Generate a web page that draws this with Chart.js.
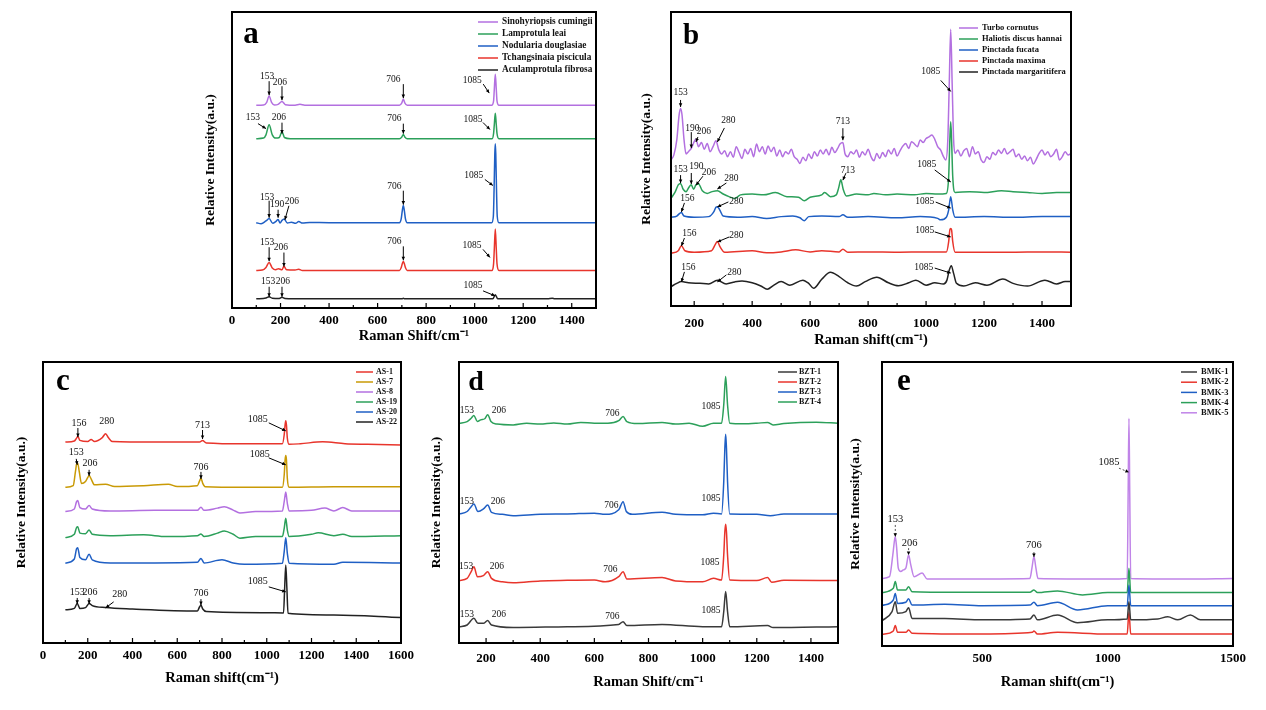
<!DOCTYPE html>
<html>
<head>
<meta charset="utf-8">
<script src="https://cdn.jsdelivr.net/npm/chart.js@4.4.1/dist/chart.umd.min.js"></script>
<style>
  body { margin:0; background:#fff; width:1266px; height:710px; position:relative; overflow:hidden; }
  canvas { position:absolute; }
</style>
</head>
<body>
<canvas id="pa" width="430" height="345" style="left:190px;top:4px"></canvas>
<canvas id="pb" width="462" height="350" style="left:628px;top:4px"></canvas>
<canvas id="pc" width="420" height="350" style="left:2px;top:355px"></canvas>
<canvas id="pd" width="440" height="350" style="left:415px;top:355px"></canvas>
<canvas id="pe" width="425" height="350" style="left:835px;top:355px"></canvas>
<script>
// ---- panel a : freshwater mussels ----
const aLabels = ['Sinohyriopsis cumingii','Lamprotula leai','Nodularia douglasiae','Tchangsinaia piscicula','Aculamprotula fibrosa'];
const aTicks = [0,200,400,600,800,1000,1200,1400];
const sinohyriopsis = [[100,68.5],[130,68.6],[143,69.5],[153,71.6],[163,69.5],[175,68.6],[190,68.8],[206,69.8],[220,68.7],[260,68.5],[280,68.8],[300,68.5],[690,68.5],[700,69.3],[706,70.6],[712,69.3],[722,68.5],[1070,68.5],[1078,70],[1081,74],[1085,79],[1089,74],[1092,70],[1100,68.5],[1500,68.5]];
const lamprotula = [[100,57.2],[130,57.4],[140,58.5],[153,61.9],[166,58.5],[180,57.4],[195,57.6],[206,59.6],[216,57.6],[240,57.2],[690,57.2],[700,57.8],[706,58.6],[712,57.8],[722,57.2],[1072,57.2],[1078,59],[1081,62],[1085,65.8],[1089,62],[1092,59],[1100,57.2],[1500,57.2]];
const nodularia = [[100,28.8],[120,28.5],[140,29.4],[153,30.2],[168,28.6],[180,29.2],[190,29.9],[198,28.7],[206,29.6],[215,30.1],[228,28.7],[245,29.0],[262,28.6],[275,29.2],[290,28.7],[320,28.9],[400,28.8],[690,28.8],[697,30],[702,33],[706,34.6],[710,33],[715,30],[722,28.8],[1070,28.8],[1077,31],[1080,40],[1083,52],[1085,55.5],[1087,52],[1090,40],[1093,31],[1100,28.8],[1500,28.8]];
const tchangsinaia = [[100,12.7],[125,12.8],[140,13.7],[153,15.4],[166,13.5],[180,12.9],[192,13.3],[206,12.9],[214,14.1],[225,12.9],[260,12.8],[275,13.1],[290,12.7],[690,12.7],[697,13.6],[702,15],[706,15.7],[710,15],[715,13.6],[722,12.7],[1072,12.7],[1078,15],[1081,20],[1085,26.7],[1089,20],[1092,15],[1100,12.7],[1500,12.7]];
const aculamprotula = [[100,3.1],[140,3.4],[153,3.8],[166,3.3],[195,3.2],[206,3.6],[218,3.2],[300,3.1],[700,3.1],[706,3.3],[712,3.1],[1075,3.1],[1085,4.5],[1095,3.1],[1300,3.1],[1320,3.3],[1330,3.1],[1500,3.1]];
// [text, x, y, arrow tail dx, dy, label dx, dy]
const aNotes = [
  ['153',153,71.9,0,-14,-2,-19],['206',206,70.2,0,-14,-2,-18],['706',706,70.9,0,-14,-10,-19],['1085',1060,72.6,-6,-9,-17,-13],
  ['153',140,60.6,-8,-5,-13,-11],['206',206,58.9,0,-11,-3,-16],['706',706,58.9,0,-10,-9,-15],['1085',1063,60.3,-7,-7,-17,-10],
  ['153',153,30.5,0,-17,-2,-20],['190',190,30.5,0,-8,-1,-13],['206',218,29.8,4,-14,7,-18],['706',706,34.9,0,-14,-9,-18],['1085',1075,41.4,-8,-6,-19,-10],
  ['153',153,15.8,0,-14,-2,-19],['206',214,14.0,0,-14,-3,-19],['706',706,16.1,0,-14,-9,-19],['1085',1063,17.1,-7,-8,-18,-12],
  ['153',153,3.8,0,-10,-1,-15],['206',206,3.8,0,-10,1,-15],['1085',1084,4.1,-12,-5,-22,-10]
];

// ---- panel b : marine shells ----
const bLabels = ['Turbo cornutus','Haliotis discus hannai','Pinctada fucata','Pinctada maxima','Pinctada margaritifera'];
const bTicks = [200,400,600,800,1000,1200,1400];
const turbo = [[120,49.7],[130,51.4],[140,56.5],[148,65],[153,67.2],[158,65],[165,56.5],[172,51.7],[180,52.5],[190,53.6],[200,55.9],[206,56.7],[215,54.2],[225,55.6],[235,53.3],[245,55.3],[255,52.5],[265,54.2],[275,56.2],[285,53.1],[295,51.7],[305,52.8],[315,50.8],[325,52.5],[335,50.6],[345,54.2],[355,52.2],[365,50.2],[375,53.3],[385,51.7],[395,53.6],[405,50.8],[415,55.1],[425,52.5],[435,54.2],[445,51.7],[455,54.4],[465,52.5],[475,54],[485,51],[495,53.1],[505,50.8],[515,52.5],[525,51.7],[535,53.3],[545,50.8],[555,49.9],[565,48.5],[575,50.6],[585,49.4],[595,51.7],[605,50.2],[615,52.5],[625,51],[635,53.1],[645,51.7],[655,53.3],[665,51.4],[675,54],[685,52.2],[695,53.6],[703,55.1],[713,55.6],[720,51.9],[730,50.8],[740,52.5],[750,51.7],[760,53.1],[770,50.6],[780,52.5],[790,51.4],[800,53.3],[810,50.8],[820,49.4],[830,51.9],[840,50.2],[850,52.2],[860,50.8],[870,53.1],[880,51.7],[890,53.6],[900,51],[910,52.8],[920,54.4],[930,55.3],[940,53.6],[950,55.9],[960,55.1],[970,54.2],[980,56.5],[990,55.6],[1000,57],[1010,57.5],[1020,58.2],[1030,56.7],[1040,54.2],[1050,53.1],[1060,50.8],[1068,49.7],[1075,56.5],[1080,75.7],[1085,94.1],[1090,75.7],[1095,56.5],[1100,51.9],[1110,53.1],[1120,51],[1130,52.8],[1140,53.6],[1150,50.8],[1160,54.2],[1170,51.7],[1180,52.5],[1190,49.7],[1200,48.8],[1210,50.8],[1220,49.9],[1230,52.2],[1240,51.4],[1250,53.1],[1260,51.9],[1270,53.6],[1280,51.7],[1290,52.5],[1300,53.3],[1310,50.8],[1320,51.7],[1330,49.9],[1340,51],[1350,49.4],[1360,50.6],[1370,48.3],[1380,49.9],[1390,51.9],[1400,53.1],[1410,51.4],[1420,52.5],[1430,50.8],[1440,51.7],[1450,53.3],[1460,49.7],[1470,50.8],[1480,52.5],[1490,51.4],[1500,51.9]];
const haliotis = [[120,36.6],[135,38.9],[145,41.2],[153,41.7],[162,39.7],[172,38.9],[182,40.4],[190,41.2],[198,39.7],[206,41.2],[215,41.5],[228,39.2],[245,38.3],[262,38.9],[280,39.2],[300,38.1],[320,37.2],[340,36.6],[360,37.8],[400,38.1],[440,37.8],[480,38.6],[520,37.2],[560,37],[580,35.8],[600,37],[640,37.8],[650,38.6],[670,37.2],[690,37.8],[698,40],[706,42.9],[714,39.7],[725,37.4],[760,38.1],[800,37.8],[820,38.3],[860,37.8],[900,38.1],[960,37.8],[1000,38.3],[1040,38.1],[1070,38.3],[1078,44],[1082,56.5],[1085,62.7],[1088,56.5],[1092,44],[1100,38.6],[1150,38.9],[1200,38.6],[1260,39.2],[1300,38.9],[1350,38.6],[1400,38.3],[1450,38.6],[1500,38.6]];
const pFucata = [[120,30.2],[140,30.6],[150,31.5],[156,31.8],[165,30.6],[200,30.2],[250,30.4],[268,32.1],[275,33.6],[280,33.8],[288,32.7],[300,30.6],[350,30.2],[400,30.4],[450,29.8],[500,30.4],[540,30.6],[565,30],[580,29],[595,30.4],[640,30.6],[700,30.4],[713,31],[730,30.2],[800,30.4],[900,30],[980,30.4],[1040,29.8],[1050,29.3],[1070,30.2],[1078,32.7],[1085,37.2],[1092,32.7],[1100,30.2],[1200,30.4],[1300,30.2],[1400,30.4],[1500,30.4]];
const pMaxima = [[120,17.9],[145,18.8],[156,20.5],[168,18.8],[200,18.3],[260,18.8],[272,20.8],[280,21.9],[290,20],[305,18.3],[400,18.8],[450,18.1],[500,18.4],[550,19.1],[600,18.4],[640,18.8],[700,18.4],[713,19.3],[730,18.3],[800,18.4],[900,18.3],[1000,18.4],[1070,18.4],[1078,21.9],[1082,25.9],[1085,26.4],[1088,25.9],[1092,21.9],[1100,18.3],[1200,18.3],[1300,18.3],[1400,18.4],[1500,18.3]];
const pMargaritifera = [[120,6.6],[140,7.7],[156,8.3],[180,7.9],[220,7.7],[250,7.5],[280,8.8],[310,7.5],[340,8.2],[365,8.5],[400,7.9],[430,6.8],[452,5.7],[475,7.1],[500,8.3],[530,7.1],[575,8.8],[595,7.7],[612,6],[640,9.1],[670,11.5],[700,10],[730,7.9],[760,6.8],[790,8.3],[830,9.8],[870,7.9],[905,6.9],[940,7.9],[965,8.8],[1000,7.1],[1030,7.9],[1060,7.5],[1072,8.8],[1080,12.2],[1087,13.7],[1095,11.1],[1105,7.7],[1130,6.8],[1170,7.9],[1210,7.1],[1265,9.2],[1300,7.7],[1350,6.8],[1410,8.8],[1450,7.5],[1480,8.3],[1500,8.3]];
const bNotes = [
  ['153',153,67.7,0,-7,0,-14],['190',190,53.7,0,-16,1,-20],['206',206,55.8,2,-5,8,-10],['280',280,55.8,7,-14,11,-21],['713',713,56.4,0,-12,0,-19],['1085',1085,73,-10,-11,-20,-20],
  ['153',153,41.8,0,-8,0,-14],['190',190,41.5,0,-11,5,-17],['206',206,41.1,7,-9,13,-13],['280',280,39.8,9,-6,14,-10],['713',713,42.8,3,-7,5,-10],['1085',1085,42.2,-16,-12,-24,-17],
  ['156',156,32,3,-9,6,-13],['280',280,33.7,11,-5,19,-5],['1085',1085,33.3,-15,-6,-26,-7],
  ['156',156,20.4,3,-8,8,-13],['280',280,21.8,12,-5,19,-6],['1085',1085,23.5,-16,-5,-26,-6],
  ['156',156,8.2,3,-10,7,-14],['280',280,8.2,9,-7,17,-9],['1085',1085,11.2,-16,-5,-27,-6]
];

// ---- panel c : AS samples ----
const cLabels = ['AS-1','AS-7','AS-8','AS-19','AS-20','AS-22'];
const cTicks = [0,200,400,600,800,1000,1200,1400,1600];
const as1 = [[100,71.5],[140,71.9],[150,72.9],[156,73.5],[165,72.1],[200,71.7],[215,72.4],[230,71.7],[265,73.1],[280,74.5],[292,73.1],[310,71.7],[500,71.5],[700,71.5],[713,72.1],[730,71.2],[900,70.9],[1070,70.9],[1078,74.1],[1082,77.6],[1085,79.1],[1088,77.6],[1092,72.9],[1100,70.7],[1150,70.9],[1250,71.6],[1350,70.9],[1450,70.7],[1600,70.5]];
const as7 = [[100,55.4],[135,56],[145,61],[150,63.6],[155,64],[162,61],[172,56.8],[190,57.5],[200,58.9],[206,59.6],[215,58.4],[230,56.3],[280,56.5],[320,55.7],[450,56],[560,56.5],[600,55.7],[690,56],[700,57.7],[706,58.6],[714,56.8],[725,55.6],[900,55.4],[1070,55.4],[1078,59.8],[1082,65.2],[1085,66.7],[1088,65.2],[1092,58.6],[1100,55.4],[1300,55.6],[1600,55.6]];
const as8 = [[100,46.8],[140,47.7],[150,50.3],[155,50.7],[165,48.2],[190,47.7],[206,48.9],[220,47.7],[300,47],[500,47.2],[690,47.2],[706,48.3],[720,47.2],[780,48],[810,48.5],[850,47.3],[880,46.3],[950,46.8],[1070,47],[1078,50.3],[1085,53.7],[1092,49.7],[1100,47],[1200,47.2],[1260,48],[1300,47],[1340,48.2],[1380,47],[1500,47],[1600,47]];
const as19 = [[100,37.5],[140,38.7],[150,41.1],[155,41.4],[165,39.1],[190,38.9],[206,40.2],[220,38.7],[300,38.2],[450,38.5],[550,37.9],[690,38.2],[706,38.8],[720,37.9],[780,39.1],[810,39.9],[850,38.7],[880,37.3],[950,37.9],[1070,37.9],[1078,40.8],[1085,44.4],[1092,40.2],[1100,37.9],[1200,38.7],[1230,39.2],[1300,38.2],[1340,38.7],[1380,37.9],[1600,38.2]];
const as20 = [[100,28.4],[140,29.9],[150,33.5],[155,33.9],[165,30.4],[190,29.6],[206,31.6],[220,29.6],[300,28.5],[500,28.5],[690,28.7],[706,30.1],[720,28.5],[800,29.6],[850,28.5],[900,28],[1070,28.4],[1078,32.5],[1085,37.5],[1092,31.9],[1100,28.4],[1300,28],[1340,28.7],[1600,28.5]];
const as22 = [[100,11.8],[140,12.3],[153,14.1],[165,12.3],[190,12.6],[206,14.1],[220,13.3],[280,12.6],[400,12.1],[690,11.4],[700,12.9],[706,13.5],[714,12.1],[730,11.2],[1000,10.8],[1075,10.7],[1080,19.5],[1085,27.8],[1090,19.5],[1095,10.6],[1300,10],[1600,9.1]];
const cNotes = [
  ['156',156,73.3,0,-9,1,-14],['280',280,74.5,null,null,1,-12],['713',713,72.6,0,-9,0,-14],['1085',1085,75.5,-17,-8,-28,-11],
  ['153',153,63.4,-1,-6,-1,-12],['206',206,59.5,0,-6,1,-12],['706',706,58.4,0,-7,0,-12],['1085',1085,63.4,-17,-7,-26,-10],
  ['153',153,13.9,0,-6,0,-12],['206',206,13.9,0,-6,1,-12],['280',280,12.5,8,-6,14,-14],['706',706,13.5,0,-6,0,-12],['1085',1085,18.2,-17,-5,-28,-10]
];

// ---- panel d : BZT samples ----
const dLabels = ['BZT-1','BZT-2','BZT-3','BZT-4'];
const dTicks = [200,400,600,800,1000,1200,1400];
const bzt1 = [[100,5.8],[130,6.4],[155,8.8],[170,7],[190,7],[206,8],[220,6.4],[300,5.5],[500,5.8],[690,6.6],[706,7.6],[720,6.2],[850,6.6],[1000,5.8],[1070,5.8],[1078,11.2],[1085,18.3],[1092,11.2],[1100,5.8],[1240,6.2],[1260,5.5],[1500,5.8]];
const bzt2 = [[100,22.2],[130,23],[145,25.4],[155,27.1],[168,23.6],[190,24],[206,25.4],[220,23],[260,21.8],[300,21.4],[400,22.1],[500,22.3],[600,22.4],[640,21.8],[690,23.6],[706,25.4],[720,22.8],[850,23.3],[900,22.1],[1000,21.8],[1040,23],[1070,22.4],[1078,31.3],[1082,39.6],[1085,42.3],[1088,39.6],[1092,31.3],[1100,22.4],[1200,22.2],[1240,23.3],[1255,21.6],[1300,22.3],[1500,22.2]];
const bzt3 = [[100,45.9],[130,46.8],[145,48.5],[155,49.5],[170,46.8],[190,47.7],[206,49.1],[220,46.5],[260,45.8],[300,45.3],[400,45.8],[500,45.9],[600,46.2],[640,45.8],[690,47.4],[706,50.3],[718,46.8],[740,45.8],[850,46.5],[900,45.8],[1000,45.6],[1040,46.2],[1070,45.9],[1078,57.5],[1082,69.3],[1085,74.3],[1088,69.3],[1092,57.5],[1100,45.9],[1200,45.8],[1250,45.3],[1300,45.9],[1500,45.9]];
const bzt4 = [[100,78.2],[130,78.8],[145,80],[155,81],[168,78.8],[180,79.4],[195,79.8],[206,81.2],[218,78.8],[240,77.9],[300,77.6],[350,78.2],[400,77.9],[450,78.3],[500,77.9],[550,78.5],[600,78.2],[650,78.2],[690,79.1],[706,80.6],[720,78.8],[760,78.1],[850,78.5],[900,77.9],[950,78.2],[1000,77.1],[1040,78.2],[1070,78.2],[1078,84.8],[1085,94.8],[1092,84.8],[1100,78.2],[1150,78],[1200,78.2],[1240,78.5],[1260,77.6],[1300,78.1],[1420,78.6],[1500,78.2]];
const dNotes = [
  ['153',129,10.3,null,null,0,0],['206',247,10.3,null,null,0,0],['706',667,9.3,null,null,0,0],['1085',1031,11.7,null,null,0,0],
  ['153',126,27.4,null,null,0,0],['206',240,27.4,null,null,0,0],['706',659,26.3,null,null,0,0],['1085',1027,28.8,null,null,0,0],
  ['153',129,50.2,null,null,0,0],['206',244,50.2,null,null,0,0],['706',663,48.8,null,null,0,0],['1085',1031,51.3,null,null,0,0],
  ['153',129,82.6,null,null,0,0],['206',247,82.6,null,null,0,0],['706',667,81.5,null,null,0,0],['1085',1031,84,null,null,0,0]
];

// ---- panel e : BMK samples ----
const eLabels = ['BMK-1','BMK-2','BMK-3','BMK-4','BMK-5'];
const eTicks = [500,1000,1500];
const bmk1 = [[100,8.9],[140,12.1],[153,15.6],[162,11.5],[195,12.1],[206,13.5],[220,9.7],[350,9.7],[500,9.2],[690,9.5],[706,10.9],[720,9.2],[800,10.9],[880,8.2],[1000,9.2],[1078,9.5],[1085,15.6],[1092,9.2],[1200,9.5],[1240,10.3],[1280,9.2],[1330,10.9],[1370,9.2],[1500,9.2]];
const bmk2 = [[100,4.1],[145,5.3],[153,7.2],[162,4.8],[195,4.8],[206,5.6],[220,4.5],[500,4.2],[700,4.8],[706,5.3],[720,4.2],[800,4.8],[1000,4.2],[1078,4.2],[1085,12.1],[1092,4.2],[1500,4.2]];
const bmk3 = [[100,14.2],[145,16.2],[153,18.5],[162,15],[195,15.4],[206,16.6],[220,14.4],[350,14.7],[500,14.2],[690,14.4],[706,15.4],[720,14.2],[800,15.4],[880,12.7],[1000,14.2],[1078,14.2],[1085,21.5],[1092,14.2],[1500,14.2]];
const bmk4 = [[100,18.8],[145,20.3],[153,22.7],[162,19.7],[195,19.7],[206,20.9],[220,19.1],[400,18.9],[690,18.9],[706,19.7],[720,18.8],[800,19.4],[900,18],[1000,18.8],[1078,18.8],[1085,27.4],[1092,18.8],[1500,18.8]];
const bmk5 = [[100,23.8],[130,24.4],[143,32],[150,37.3],[153,38.5],[158,35],[165,27.4],[175,26.2],[185,26.8],[195,27.4],[206,32],[215,28.5],[228,24.4],[260,25.7],[280,23.6],[400,23.6],[690,23.8],[698,27.4],[706,31.5],[714,27.4],[722,23.8],[1000,23.6],[1078,23.8],[1082,55.5],[1085,80.2],[1088,55.5],[1092,23.8],[1300,23.6],[1500,23.8]];
const eNotes = [
  ['153',153,38.4,0,-12,0,-18],['206',206,32,0,-7,1,-12],['706',706,31.3,0,-5,0,-12],['1085',1085,61.2,-10,-4,-20,-10]
];

const SERIF = '"Liberation Serif", "Times New Roman", serif';
const RED = '#e8352c', GREEN = '#2ca05a', BLUE = '#1f5fc4', PURPLE = '#b370e0', BLACK = '#222222', GREY = '#3a3a3a', GOLD = '#c99a06';

// frame, inward ticks, legend, panel letter and peak labels
const decor = {
  id: 'decor',
  afterDatasetsDraw(chart, args, o) {
    const ctx = chart.ctx, a = chart.chartArea;
    const xs = chart.scales.x, ys = chart.scales.y;
    ctx.save();
    ctx.strokeStyle = '#000';
    ctx.lineWidth = 1.2;
    if (o.tickMarks) {
      const major = xs.ticks.map(t => t.value);
      const minor = major.map(v => v + o.tickMarks / 2).concat([major[0] - o.tickMarks / 2]);
      ctx.beginPath();
      major.forEach(v => { const px = xs.getPixelForValue(v); if (px > a.left + 2 && px < a.right - 2) { ctx.moveTo(px, a.bottom); ctx.lineTo(px, a.bottom - 5); } });
      minor.forEach(v => { const px = xs.getPixelForValue(v); if (px > a.left + 2 && px < a.right - 2) { ctx.moveTo(px, a.bottom); ctx.lineTo(px, a.bottom - 3); } });
      ctx.stroke();
    }
    ctx.lineWidth = 2;
    ctx.strokeRect(a.left, a.top, a.right - a.left, a.bottom - a.top);

    // legend
    const L = o.legend;
    ctx.font = 'bold ' + L.size + 'px ' + SERIF;
    ctx.textAlign = 'left'; ctx.textBaseline = 'middle';
    chart.data.datasets.forEach((ds, i) => {
      const y = a.top + L.y0 + i * L.dy;
      ctx.strokeStyle = ds.borderColor; ctx.lineWidth = 1.5;
      ctx.beginPath(); ctx.moveTo(a.right + L.x0, y); ctx.lineTo(a.right + L.x1, y); ctx.stroke();
      ctx.fillStyle = '#111';
      ctx.fillText(ds.label, a.right + L.tx, y);
    });

    // panel letter
    ctx.font = 'bold ' + o.letter.size + 'px ' + SERIF;
    ctx.textAlign = 'center'; ctx.textBaseline = 'alphabetic'; ctx.fillStyle = '#000';
    ctx.fillText(o.letter.text, a.left + o.letter.dx, a.top + o.letter.dy);

    // peak labels
    ctx.font = o.noteSize + 'px ' + SERIF;
    ctx.textBaseline = 'middle';
    ctx.lineWidth = 1;
    o.notes.forEach(n => {
      const px = xs.getPixelForValue(n[1]), py = ys.getPixelForValue(n[2]);
      if (n[3] !== null) {
        const tx = px + n[3], ty = py + n[4];
        ctx.setLineDash(o.arrowDash || []);
        ctx.strokeStyle = o.arrowColor || '#000';
        ctx.beginPath(); ctx.moveTo(tx, ty); ctx.lineTo(px, py); ctx.stroke();
        ctx.setLineDash([]);
        const ang = Math.atan2(py - ty, px - tx), h = 4;
        ctx.beginPath();
        ctx.moveTo(px, py);
        ctx.lineTo(px - h * Math.cos(ang - 0.45), py - h * Math.sin(ang - 0.45));
        ctx.lineTo(px - h * Math.cos(ang + 0.45), py - h * Math.sin(ang + 0.45));
        ctx.closePath();
        ctx.fillStyle = '#000'; ctx.fill();
      }
      ctx.fillStyle = '#111';
      ctx.fillText(n[0], px + n[5], py + n[6]);
    });
    ctx.restore();
  }
};

function panel(id, cfg) {
  return new Chart(document.getElementById(id), {
    type: 'line',
    data: {
      datasets: cfg.series.map((s, i) => ({
        label: cfg.labels[i],
        data: s.map(p => ({ x: p[0], y: p[1] })),
        borderColor: cfg.colors[i],
        borderWidth: 1.5,
        pointRadius: 0,
        cubicInterpolationMode: 'monotone',
        fill: false
      }))
    },
    options: {
      responsive: false, animation: false, events: [],
      layout: { padding: { top: cfg.padTop, right: cfg.padRight, left: 0, bottom: 0 } },
      plugins: { legend: { display: false }, tooltip: { enabled: false }, decor: cfg.decor },
      scales: {
        x: {
          type: 'linear', min: cfg.xmin, max: cfg.xmax,
          afterBuildTicks: s => { s.ticks = cfg.ticks.map(v => ({ value: v })); },
          afterFit: s => { s.height = cfg.xH; },
          grid: { display: false, drawTicks: false }, border: { display: false },
          ticks: { autoSkip: false, maxRotation: 0, padding: cfg.tickPad, color: '#000', callback: v => String(v),
            font: { family: SERIF, size: 13, weight: 'bold' } },
          title: { display: true, text: cfg.xTitle, color: '#000', font: { family: SERIF, size: 14.5, weight: 'bold' }, padding: { top: 0, bottom: cfg.xTitlePad } }
        },
        y: {
          min: 0, max: 100,
          afterFit: s => { s.width = cfg.yW; },
          grid: { display: false, drawTicks: false }, border: { display: false },
          ticks: { display: false },
          title: { display: true, text: 'Relative Intensity(a.u.)', color: '#000', font: { family: SERIF, size: 13.5, weight: 'bold' }, padding: { top: cfg.yTitlePad, bottom: 0 } }
        }
      }
    },
    plugins: [decor]
  });
}

panel('pa', {
  labels: aLabels, series: [sinohyriopsis, lamprotula, nodularia, tchangsinaia, aculamprotula],
  colors: [PURPLE, GREEN, BLUE, RED, BLACK],
  xmin: 0, xmax: 1500, ticks: aTicks, xTitle: 'Raman Shift/cm\u207B\u00B9',
  padTop: 8, padRight: 24, xH: 41, yW: 42, tickPad: 5, xTitlePad: 4, yTitlePad: 12,
  decor: { tickMarks: 200, notes: aNotes, noteSize: 9.5, letter: { text: 'a', size: 31, dx: 19, dy: 31 },
    legend: { x0: -118, x1: -98, tx: -94, y0: 10, dy: 12, size: 9.3 } }
});
panel('pb', {
  labels: bLabels, series: [turbo, haliotis, pFucata, pMaxima, pMargaritifera],
  colors: [PURPLE, GREEN, BLUE, RED, BLACK],
  xmin: 120, xmax: 1500, ticks: bTicks, xTitle: 'Raman shift(cm\u207B\u00B9)',
  padTop: 8, padRight: 19, xH: 48, yW: 43, tickPad: 10, xTitlePad: 5, yTitlePad: 10,
  decor: { tickMarks: 200, notes: bNotes, noteSize: 9.5, letter: { text: 'b', size: 29, dx: 20, dy: 32 },
    legend: { x0: -112, x1: -93, tx: -89, y0: 16, dy: 11, size: 8.5 } }
});
panel('pc', {
  labels: cLabels, series: [as1, as7, as8, as19, as20, as22],
  colors: [RED, GOLD, PURPLE, GREEN, BLUE, BLACK],
  xmin: 0, xmax: 1600, ticks: cTicks, xTitle: 'Raman shift(cm\u207B\u00B9)',
  padTop: 7, padRight: 21, xH: 62, yW: 41, tickPad: 5, xTitlePad: 18, yTitlePad: 11,
  decor: { tickMarks: 200, notes: cNotes, noteSize: 10, letter: { text: 'c', size: 31, dx: 20, dy: 28 },
    legend: { x0: -45, x1: -28, tx: -25, y0: 10, dy: 10, size: 8 } }
});
panel('pd', {
  labels: dLabels, series: [bzt1, bzt2, bzt3, bzt4],
  colors: [GREY, RED, BLUE, GREEN],
  xmin: 100, xmax: 1500, ticks: dTicks, xTitle: 'Raman Shift/cm\u207B\u00B9',
  padTop: 7, padRight: 17, xH: 62, yW: 44, tickPad: 8, xTitlePad: 14, yTitlePad: 13,
  decor: { tickMarks: 200, notes: dNotes, noteSize: 9.5, letter: { text: 'd', size: 28, dx: 17, dy: 28 },
    legend: { x0: -60, x1: -41, tx: -39, y0: 10, dy: 10, size: 8 } }
});
panel('pe', {
  labels: eLabels, series: [bmk1, bmk2, bmk3, bmk4, bmk5],
  colors: [GREY, RED, BLUE, GREEN, '#c084e8'],
  xmin: 100, xmax: 1500, ticks: eTicks, xTitle: 'Raman shift(cm\u207B\u00B9)',
  padTop: 7, padRight: 27, xH: 59, yW: 47, tickPad: 5, xTitlePad: 14, yTitlePad: 12,
  decor: { tickMarks: 0, notes: eNotes, noteSize: 10.5, arrowDash: [2, 2], arrowColor: '#555', letter: { text: 'e', size: 31, dx: 22, dy: 28 },
    legend: { x0: -52, x1: -36, tx: -32, y0: 10, dy: 10.2, size: 8.5 } }
});
</script>
</body>
</html>
